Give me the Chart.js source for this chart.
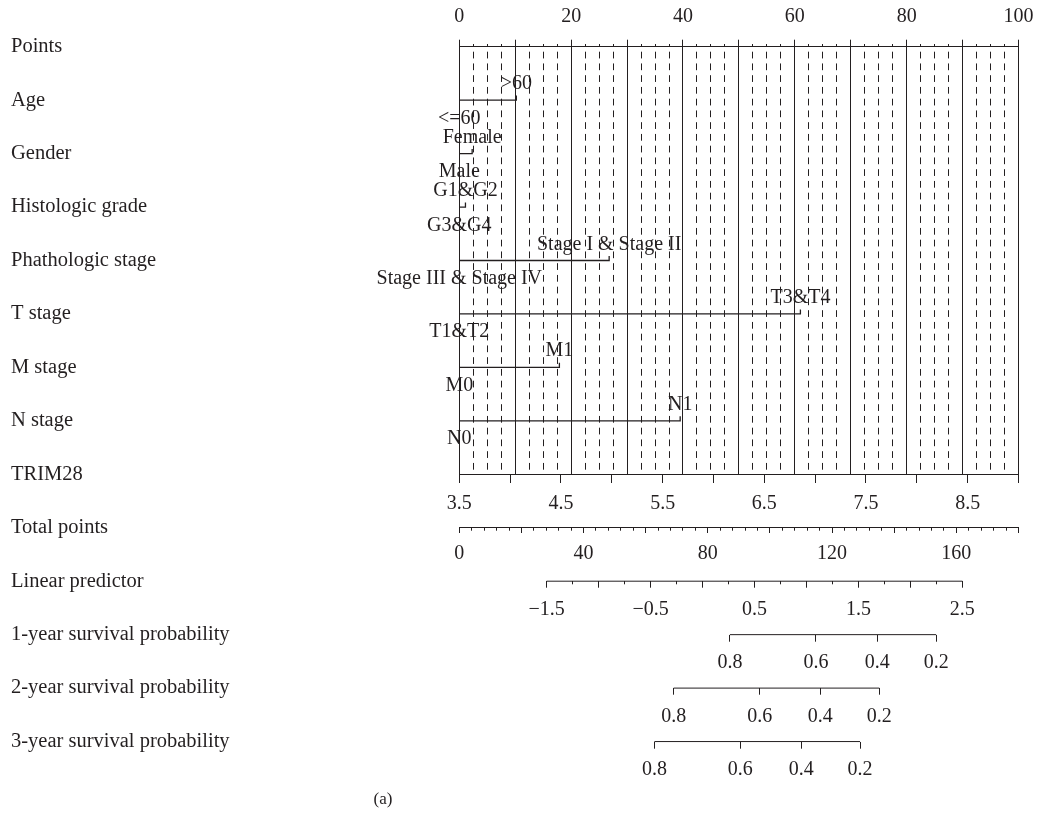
<!DOCTYPE html>
<html>
<head>
<meta charset="utf-8">
<title>Nomogram</title>
<script src="https://cdn.jsdelivr.net/npm/chart.js@4.4.1/dist/chart.umd.min.js"></script>
<style>
  html, body { margin: 0; padding: 0; background: #ffffff; }
  #wrap { position: relative; width: 1038px; height: 825px; }
  #nomogram { display: block; }
  #caption {
    position: absolute; left: 0; width: 766px; top: 789px;
    text-align: center; font: 17px 'Liberation Serif', 'Times New Roman', serif; color: #231f20;
  }
</style>
</head>
<body>
<div id="wrap">
  <canvas id="nomogram" width="1038" height="825"></canvas>
  <div id="caption">(a)</div>
</div>
<script>
// ---- row titles (one per nomogram line, top to bottom) ----
const rowTitles = [
  'Points', 'Age', 'Gender', 'Histologic grade', 'Phathologic stage',
  'T stage', 'M stage', 'N stage', 'TRIM28', 'Total points', 'Linear predictor',
  '1-year survival probability', '2-year survival probability', '3-year survival probability'
];

// ---- categorical predictors: levels and their points ----
const ageLevels    = ['<=60', '>60'];
const agePoints    = [0, 10.2];
const genderLevels = ['Male', 'Female'];
const genderPoints = [0, 2.3];
const gradeLevels  = ['G3&G4', 'G1&G2'];
const gradePoints  = [0, 1.1];
const stageLevels  = ['Stage III & Stage IV', 'Stage I & Stage II'];
const stagePoints  = [0, 26.8];
const tLevels      = ['T1&T2', 'T3&T4'];
const tPoints      = [0, 61.0];
const mLevels      = ['M0', 'M1'];
const mPoints      = [0, 17.9];
const nLevels      = ['N0', 'N1'];
const nPoints      = [0, 39.5];

// ---- continuous axes ----
const pointsRange   = [0, 100];
const pointsLabels  = [0, 20, 40, 60, 80, 100];
const trimRange     = [3.5, 9.0];
const trimLabels    = [3.5, 4.5, 5.5, 6.5, 7.5, 8.5];
const totalRange    = [0, 180];
const totalLabels   = [0, 40, 80, 120, 160];
const lpAtTotalEnds = [-2.34, 3.04];   // linear predictor at 0 and 180 total points
const lpSpan        = [-1.5, 2.5];
const lpLabels      = [-1.5, -0.5, 0.5, 1.5, 2.5];

// ---- survival probability scales (probability -> total points) ----
const survProbs    = [0.8, 0.6, 0.4, 0.2];
const surv1yPoints = [87.1, 114.8, 134.5, 153.5];
const surv2yPoints = [69.0, 96.7, 116.2, 135.2];
const surv3yPoints = [62.8, 90.4, 110.1, 129.0];

// ---- styling ----
const INK = '#231f20';
const FONT = "'Liberation Serif', 'Times New Roman', serif";
Chart.defaults.font.family = FONT;
Chart.defaults.font.size = 20;
Chart.defaults.color = INK;

const BRACKET_TICK = 0.085;   // height of the end tick on each predictor line, in rows

const categorical = [
  [ageLevels, agePoints], [genderLevels, genderPoints], [gradeLevels, gradePoints],
  [stageLevels, stagePoints], [tLevels, tPoints], [mLevels, mPoints], [nLevels, nPoints]
];

const lineStyle = {
  showLine: true, borderColor: INK, borderWidth: 1.3, pointRadius: 0,
  pointHoverRadius: 0, fill: false, tension: 0, clip: false
};

const datasets = categorical.map(([levels, pts], k) => Object.assign({
  label: rowTitles[k + 1],
  xAxisID: 'x', yAxisID: 'y',
  data: [
    {x: pts[0], y: k + 1},
    {x: pts[1], y: k + 1},
    {x: pts[1], y: k + 1 - BRACKET_TICK}
  ]
}, lineStyle));

datasets.push(Object.assign({
  label: 'Linear predictor', xAxisID: 'xLP', yAxisID: 'y',
  data: [{x: lpSpan[0], y: 10}, {x: lpSpan[1], y: 10}]
}, lineStyle, {borderWidth: 1}));

[[surv1yPoints, 'xS1', 11], [surv2yPoints, 'xS2', 12], [surv3yPoints, 'xS3', 13]].forEach(([pts, id, row]) => {
  datasets.push(Object.assign({
    label: rowTitles[row], xAxisID: id, yAxisID: 'y',
    data: [{x: pts[0], y: row}, {x: pts[pts.length - 1], y: row}]
  }, lineStyle, {borderWidth: 1}));
});

function steps(from, to, step) {
  const out = [];
  for (let v = from; v <= to + 1e-9; v += step) out.push(Math.round(v * 1000) / 1000);
  return out;
}
const has = (list, v) => list.some(t => Math.abs(t - v) < 1e-6);
const fmtSigned = v => (v < 0 ? '\u2212' + Math.abs(v).toFixed(1) : v.toFixed(1));

function tickGrid(len) {
  return {display: true, drawOnChartArea: false, drawTicks: true,
          tickLength: len, tickColor: INK, tickWidth: 1, color: INK};
}

function lowerAxis(row, range, tickLen, extra) {
  return Object.assign({
    type: 'linear', bounds: 'data', min: range[0], max: range[1],
    position: {y: row},
    grid: tickGrid(tickLen),
    border: {display: false}
  }, extra);
}

// level labels of each categorical predictor, placed above / below its line
const levelLabels = {
  id: 'levelLabels',
  afterDatasetsDraw(chart) {
    const {ctx} = chart;
    const xs = chart.scales.x, ys = chart.scales.y;
    ctx.save();
    ctx.font = '20px ' + FONT;
    ctx.fillStyle = INK;
    ctx.textAlign = 'center';
    ctx.textBaseline = 'alphabetic';
    categorical.forEach(([levels, pts], k) => {
      const yPix = ys.getPixelForValue(k + 1);
      levels.forEach((lab, j) => {
        const xPix = xs.getPixelForValue(pts[j]);
        ctx.fillText(lab, xPix, j === 1 ? yPix - 11 : yPix + 23.5);
      });
    });
    ctx.restore();
  }
};

new Chart(document.getElementById('nomogram'), {
  type: 'scatter',
  data: {datasets},
  options: {
    responsive: false,
    animation: false,
    events: [],
    layout: {padding: {left: 11, right: 19.5, top: 0, bottom: 350.7}},
    plugins: {legend: {display: false}, tooltip: {enabled: false}, title: {display: false}},
    scales: {
      y: {
        type: 'linear', bounds: 'data', min: 0, max: 8, reverse: true, position: 'left',
        grid: {display: false}, border: {display: false},
        afterFit: s => { s.width = 448.3; s.paddingTop = 0; s.paddingBottom = 0; },
        afterBuildTicks: s => { s.ticks = rowTitles.map((t, i) => ({value: i})); },
        ticks: {autoSkip: false, crossAlign: 'far', font: {size: 20.5},
                callback: (v, i) => rowTitles[i]}
      },
      // Points axis with solid guide lines every 10 points
      x: {
        type: 'linear', bounds: 'data', min: pointsRange[0], max: pointsRange[1], position: 'top',
        afterFit: s => { s.height = 46.7; s.paddingLeft = 0; s.paddingRight = 0; },
        grid: {display: true, drawOnChartArea: true, drawTicks: true, tickLength: 7,
               color: INK, tickColor: INK, lineWidth: 1, tickWidth: 1},
        border: {display: true, color: INK, width: 1},
        ticks: {stepSize: 10, autoSkip: false, maxRotation: 0, padding: 11,
                callback: v => has(pointsLabels, v) ? String(v) : ''}
      },
      // minor points ticks with dashed guide lines
      xMinor: {
        type: 'linear', bounds: 'data', min: pointsRange[0], max: pointsRange[1],
        position: {y: -0.05},
        grid: {display: true, drawOnChartArea: true, drawTicks: true, tickLength: 2.7,
               tickColor: INK, tickWidth: 1, lineWidth: 1,
               borderDash: [6.75, 5], borderDashOffset: 6.75,
               color: c => (c.tick && Math.abs(c.tick.value % 10) < 1e-6) ? 'rgba(0,0,0,0)' : INK},
        border: {display: false, dash: [6.75, 5], dashOffset: 6.75},
        ticks: {display: false, stepSize: 2.5, autoSkip: false}
      },
      xTrim: lowerAxis(8, trimRange, 8, {
        border: {display: true, color: INK, width: 1},
        ticks: {stepSize: 0.5, autoSkip: false, maxRotation: 0, padding: 9,
                callback: v => has(trimLabels, v) ? v.toFixed(1) : ''}
      }),
      xTot: lowerAxis(9, totalRange, 5, {
        border: {display: true, color: INK, width: 1},
        ticks: {stepSize: 20, autoSkip: false, maxRotation: 0, padding: 8.7,
                callback: v => has(totalLabels, v) ? String(v) : ''}
      }),
      xTotMinor: lowerAxis(9, totalRange, 2.7, {
        ticks: {display: false, stepSize: 4, autoSkip: false}
      }),
      xLP: lowerAxis(10, lpAtTotalEnds, 6.7, {
        afterBuildTicks: s => { s.ticks = steps(lpSpan[0], lpSpan[1], 0.5).map(v => ({value: v})); },
        ticks: {autoSkip: false, maxRotation: 0, padding: 10.3,
                callback: v => has(lpLabels, v) ? fmtSigned(v) : ''}
      }),
      xLPMinor: lowerAxis(10, lpAtTotalEnds, 3.3, {
        afterBuildTicks: s => { s.ticks = steps(lpSpan[0], lpSpan[1], 0.25).map(v => ({value: v})); },
        ticks: {display: false, autoSkip: false}
      }),
      xS1: lowerAxis(11, totalRange, 6.7, {
        afterBuildTicks: s => { s.ticks = surv1yPoints.map(v => ({value: v})); },
        ticks: {autoSkip: false, maxRotation: 0, padding: 9.5, callback: (v, i) => survProbs[i].toFixed(1)}
      }),
      xS2: lowerAxis(12, totalRange, 6.7, {
        afterBuildTicks: s => { s.ticks = surv2yPoints.map(v => ({value: v})); },
        ticks: {autoSkip: false, maxRotation: 0, padding: 9.5, callback: (v, i) => survProbs[i].toFixed(1)}
      }),
      xS3: lowerAxis(13, totalRange, 6.7, {
        afterBuildTicks: s => { s.ticks = surv3yPoints.map(v => ({value: v})); },
        ticks: {autoSkip: false, maxRotation: 0, padding: 9.5, callback: (v, i) => survProbs[i].toFixed(1)}
      })
    }
  },
  plugins: [levelLabels]
});
</script>
</body>
</html>
